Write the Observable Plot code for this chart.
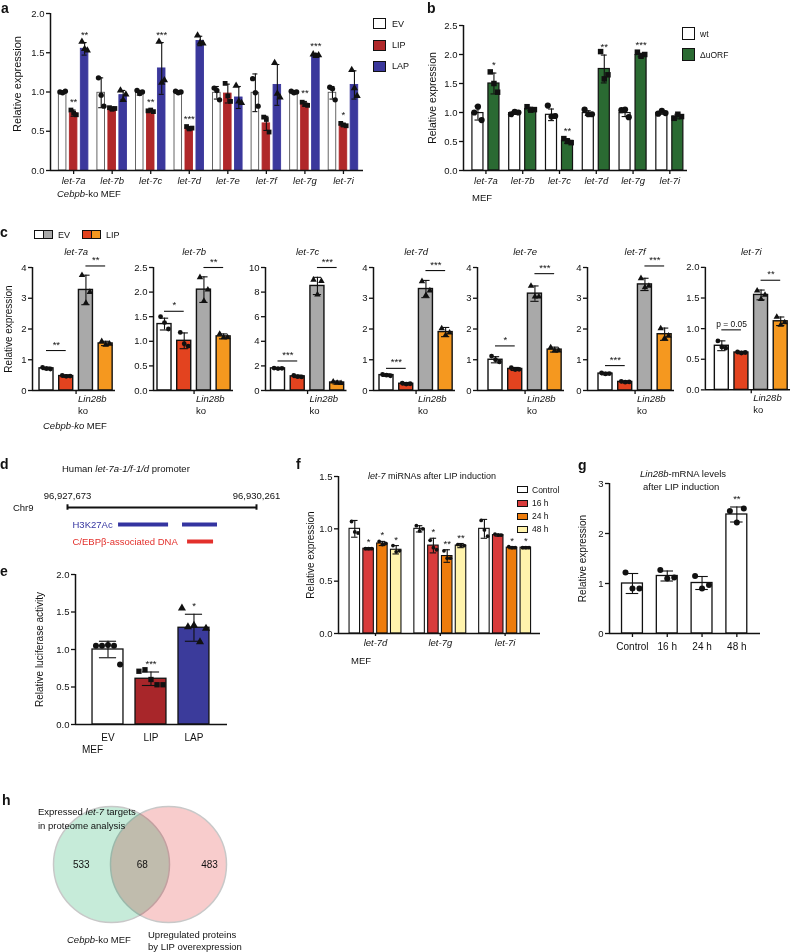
<!DOCTYPE html>
<html><head><meta charset="utf-8">
<script src="https://cdn.jsdelivr.net/npm/d3@7"></script>
<script src="https://cdn.jsdelivr.net/npm/@observablehq/plot@0.6"></script>
<style>
body{margin:0;background:#fff;}
#fig{position:relative;width:794px;height:952px;overflow:hidden;font-family:"Liberation Sans",Arial,Helvetica,sans-serif;color:#111;}
.lbl{position:absolute;white-space:nowrap;line-height:1;}
.panel{position:absolute;}
.sw{position:absolute;box-sizing:border-box;border:1px solid #111;}
.venn circle{mix-blend-mode:multiply;}
</style></head><body><div id="fig"></div>
<script>
// ---------------- DATA ----------------
// Panel a: Cebpb-ko MEF, EV / LIP / LAP
const aCategories = ["let-7a","let-7b","let-7c","let-7d","let-7e","let-7f","let-7g","let-7i"];
const aSeries = ["EV","LIP","LAP"];
const aMeanEV  = [1.00, 0.99, 0.99, 1.00, 0.99, 0.99, 1.00, 0.99];
const aSdEV    = [0.01, 0.19, 0.03, 0.02, 0.08, 0.24, 0.02, 0.08];
const aMeanLIP = [0.73, 0.79, 0.76, 0.54, 0.98, 0.60, 0.85, 0.58];
const aSdLIP   = [0.04, 0.02, 0.01, 0.02, 0.12, 0.09, 0.03, 0.02];
const aMeanLAP = [1.55, 0.96, 1.30, 1.65, 0.93, 1.09, 1.47, 1.09];
const aSdLAP   = [0.08, 0.06, 0.33, 0.06, 0.14, 0.26, 0.02, 0.18];
const aDotsEV  = [[1.00,0.99,1.01],[1.18,0.96,0.82],[1.02,0.98,1.00],[1.01,0.99,1.00],[1.05,1.02,0.90],[1.17,0.99,0.82],[1.01,0.99,1.00],[1.06,1.04,0.90]];
const aDotsLIP = [[0.77,0.73,0.71],[0.80,0.78,0.79],[0.76,0.77,0.75],[0.56,0.53,0.54],[1.11,0.95,0.88],[0.68,0.65,0.49],[0.87,0.84,0.83],[0.60,0.58,0.57]];
const aDotsLAP = [[1.64,1.55,1.53],[1.02,0.90,0.97],[1.64,1.12,1.15],[1.72,1.63,1.62],[1.08,0.88,0.86],[1.37,0.98,0.93],[1.48,1.46,1.47],[1.28,1.05,0.95]];
const aStarsLIP = ["**","","**","***","","","**","*"];
const aStarsLAP = ["**","","***","","","","***",""];
const aYTicks = [0, 0.5, 1.0, 1.5, 2.0];

// Panel b: MEF wt / ΔuORF
const bCategories = ["let-7a","let-7b","let-7c","let-7d","let-7g","let-7i"];
const bSeries = ["wt","ΔuORF"];
const bMeanWT   = [0.99, 0.99, 0.96, 0.99, 0.99, 0.99];
const bSdWT     = [0.12, 0.02, 0.10, 0.04, 0.06, 0.02];
const bMeanUORF = [1.50, 1.06, 0.51, 1.75, 1.99, 0.93];
const bSdUORF   = [0.18, 0.03, 0.04, 0.24, 0.03, 0.04];
const bDotsWT   = [[1.00,1.10,0.87],[0.97,1.01,1.00],[1.12,0.93,0.94],[1.05,0.97,0.97],[1.04,1.05,0.92],[0.98,1.03,0.99]];
const bDotsUORF = [[1.70,1.50,1.35],[1.10,1.04,1.05],[0.55,0.50,0.48],[2.05,1.58,1.65],[2.04,1.97,2.00],[0.90,0.97,0.93]];
const bStarsUORF = ["*","","**","**","***",""];
const bYTicks = [0, 0.5, 1.0, 1.5, 2.0, 2.5];

// Panel c: Cebpb-ko MEF and Lin28b ko, EV / LIP
const cTargets = ["let-7a","let-7b","let-7c","let-7d","let-7e","let-7f","let-7i"];
const cSeries = ["EV","LIP","EV Lin28b ko","LIP Lin28b ko"];
const cMeanEV    = [0.72, 1.35, 1.80, 0.50, 1.00, 0.55, 0.72];
const cSdEV      = [0.04, 0.12, 0.06, 0.04, 0.10, 0.04, 0.08];
const cMeanLIP   = [0.47, 1.01, 1.15, 0.22, 0.70, 0.28, 0.61];
const cSdLIP     = [0.04, 0.16, 0.10, 0.04, 0.05, 0.03, 0.02];
const cMeanEVko  = [3.27, 2.05, 8.50, 3.30, 3.15, 3.45, 1.55];
const cSdEVko    = [0.48, 0.26, 0.70, 0.28, 0.25, 0.20, 0.08];
const cMeanLIPko = [1.53, 1.10, 0.65, 1.90, 1.33, 1.83, 1.12];
const cSdLIPko   = [0.07, 0.05, 0.12, 0.15, 0.08, 0.20, 0.07];
const cDotsEV    = [[0.75,0.71,0.70],[1.50,1.38,1.25],[1.82,1.78,1.80],[0.52,0.50,0.48],[1.12,1.00,0.93],[0.57,0.54,0.55],[0.80,0.70,0.68]];
const cDotsLIP   = [[0.49,0.46,0.47],[1.18,0.95,0.90],[1.22,1.12,1.10],[0.24,0.21,0.22],[0.74,0.68,0.69],[0.30,0.27,0.28],[0.62,0.60,0.61]];
const cDotsEVko  = [[3.75,2.85,3.20],[2.30,1.82,2.05],[9.00,7.80,8.90],[3.55,3.10,3.25],[3.40,3.05,3.05],[3.65,3.35,3.40],[1.62,1.48,1.55]];
const cDotsLIPko = [[1.60,1.48,1.52],[1.15,1.08,1.08],[0.72,0.62,0.60],[2.02,1.80,1.88],[1.40,1.30,1.30],[2.02,1.70,1.78],[1.19,1.06,1.10]];
const cSigLow   = ["**","*","***","***","*","***","p = 0.05"];
const cSigLowY  = [1.30, 1.61, 2.40, 0.72, 1.45, 0.81, 0.98];
const cSigHigh  = ["**","**","***","***","***","***","**"];
const cSigHighY = [4.05, 2.50, 10.0, 3.90, 3.80, 4.05, 1.79];
const cYMax   = [4, 2.5, 10, 4, 4, 4, 2.0];
const cYTicks = [[0,1,2,3,4],[0,0.5,1.0,1.5,2.0,2.5],[0,2,4,6,8,10],[0,1,2,3,4],[0,1,2,3,4],[0,1,2,3,4],[0,0.5,1.0,1.5,2.0]];

// Panel d: promoter region on Chr9
const dChrName = "Chr9";
const dChrStart = 96927673, dChrEnd = 96930261;
const dH3Start = [96928372, 96929248];
const dH3End   = [96929057, 96929727];
const dCebpStart = [96929317];
const dCebpEnd   = [96929673];

// Panel e: luciferase activity
const eGroups = ["EV","LIP","LAP"];
const eMean = [1.00, 0.61, 1.29];
const eSd   = [0.11, 0.09, 0.18];
const eDots = [[1.05,1.05,1.06,1.05,0.80],[0.71,0.73,0.60,0.53,0.53],[1.55,1.30,1.32,1.10,1.28]];
const eStars = ["","***","*"];
const eYTicks = [0, 0.5, 1.0, 1.5, 2.0];

// Panel f: let-7 after LIP induction
const fCategories = ["let-7d","let-7g","let-7i"];
const fSeries = ["Control","16 h","24 h","48 h"];
const fMeanCtrl = [1.00, 1.00, 1.00], fSdCtrl = [0.08, 0.03, 0.09];
const fMean16   = [0.81, 0.84, 0.94], fSd16   = [0.01, 0.07, 0.01];
const fMean24   = [0.86, 0.74, 0.82], fSd24   = [0.02, 0.06, 0.01];
const fMean48   = [0.80, 0.84, 0.82], fSd48   = [0.04, 0.02, 0.01];
const fDotsCtrl = [[1.07,0.97,0.96],[1.03,0.98,1.00],[1.08,0.99,0.93]];
const fDots16   = [[0.81,0.81,0.81],[0.89,0.82,0.80],[0.95,0.94,0.94]];
const fDots24   = [[0.88,0.85,0.86],[0.79,0.72,0.72],[0.83,0.82,0.82]];
const fDots48   = [[0.84,0.78,0.79],[0.85,0.84,0.84],[0.82,0.82,0.82]];
const fStars16 = ["*","*",""], fStars24 = ["*","**","*"], fStars48 = ["*","**","*"];
const fYTicks = [0, 0.5, 1.0, 1.5];

// Panel g: Lin28b mRNA
const gGroups = ["Control","16 h","24 h","48 h"];
const gMean = [1.00, 1.15, 1.01, 2.38];
const gSd   = [0.20, 0.10, 0.13, 0.15];
const gDots = [[1.22,0.90,0.90],[1.27,1.10,1.12],[1.15,0.90,0.97],[2.45,2.22,2.50]];
const gStars = ["","","","**"];
const gYTicks = [0, 1, 2, 3];

// Panel h: Venn
const hSets = ["Expressed let-7 targets in proteome analysis (Cebpb-ko MEF)", "Upregulated proteins by LIP overexpression"];
const hSetPos = [0, 1];
const hCounts = [533, 68, 483];
const hCountPos = [-0.53, 0.54, 1.72];

// ---------------- HELPERS ----------------
const FONT = '"Liberation Sans", Arial, Helvetica, sans-serif';
const INK = "#111";
const fig = document.getElementById("fig");
function place(node, left, top, cls) {
  const d = document.createElement("div");
  d.className = "panel" + (cls ? " " + cls : "");
  d.style.left = left + "px"; d.style.top = top + "px";
  d.appendChild(node); fig.appendChild(d);
}
function label(x, y, html, opt = {}) {
  const d = document.createElement("div");
  d.className = "lbl";
  const size = opt.size || 9.5;
  d.style.fontSize = size + "px";
  d.style.left = x + "px"; d.style.top = (y - size / 2) + "px";
  if (opt.bold) d.style.fontWeight = "bold";
  if (opt.color) d.style.color = opt.color;
  d.innerHTML = html; fig.appendChild(d);
}
function swatch(x, y, w, h, fill) {
  const d = document.createElement("div");
  d.className = "sw";
  Object.assign(d.style, {left: x + "px", top: y + "px", width: w + "px", height: h + "px", background: fill});
  fig.appendChild(d);
}
const style = {fontFamily: FONT, fontSize: "9.5px", color: INK, background: "transparent", overflow: "visible"};

function barChart(cfg) {
  const n = cfg.series.length;
  const fs = cfg.fontSize ?? 9.5;
  const marks = [];
  cfg.series.forEach((s, j) => {
    const rows = cfg.cats.map((c, i) => ({
      x: i + (j - (n - 1) / 2) * cfg.step,
      mean: s.mean[i], sd: s.sd[i],
      star: s.stars ? s.stars[i] : "",
      reps: s.dots[i]
    }));
    marks.push(Plot.rect(rows, {x1: d => d.x - cfg.barW / 2, x2: d => d.x + cfg.barW / 2, y1: () => 0, y2: "mean",
      fill: s.fill, stroke: s.stroke ?? INK, strokeWidth: cfg.barStroke ?? 1.2}));
    marks.push(Plot.ruleX(rows, {x: "x", y1: d => d.mean - d.sd, y2: d => d.mean + d.sd, stroke: INK, strokeWidth: 1.1}));
    for (const sign of [1, -1]) {
      marks.push(Plot.ruleY(rows, {y: d => d.mean + sign * d.sd, x1: d => d.x - cfg.capW / 2, x2: d => d.x + cfg.capW / 2, stroke: INK, strokeWidth: 1.1}));
    }
    const dotRows = rows.flatMap(d => d.reps.map((v, k) => ({x: d.x + (k - (d.reps.length - 1) / 2) * cfg.spread, y: v})));
    marks.push(Plot.dot(dotRows, {x: "x", y: "y", symbol: s.symbol ?? "circle", r: cfg.dotR ?? 2.6, fill: INK, stroke: "none"}));
    marks.push(Plot.text(rows.filter(d => d.star), {x: "x", y: d => d.mean + d.sd, text: "star", dy: cfg.starDy ?? -8, fontSize: fs}));
  });
  marks.push(Plot.ruleY([0], {stroke: INK, strokeWidth: 1.5}));
  marks.push(Plot.ruleX([cfg.xDomain[0]], {stroke: INK, strokeWidth: 1.5}));
  marks.push(Plot.axisY({ticks: cfg.yTicks, tickFormat: d3.format(cfg.yFmt), tickSize: 4, tickPadding: 2, fontSize: fs, label: null, strokeWidth: 1.3}));
  if (cfg.yLabel) marks.push(Plot.text([cfg.yLabel], {frameAnchor: "left", textAnchor: "middle", lineAnchor: "middle", rotate: -90,
    dx: -cfg.yLabelOffset, dy: cfg.yLabelDy ?? 0, fontSize: cfg.yLabelSize ?? 10}));
  marks.push(Plot.axisX({ticks: cfg.xTicks ?? cfg.cats.map((c, i) => i), tickFormat: cfg.xTickFormat ?? (i => cfg.cats[i]),
    tickSize: cfg.xTickSize ?? 4, tickPadding: cfg.xTickPadding ?? 3, fontSize: cfg.xFontSize ?? fs,
    fontStyle: cfg.xItalic ? "italic" : "normal", label: null, strokeWidth: 1.3}));
  if (cfg.extra) marks.push(...cfg.extra);
  const [mt, mr, mb, ml] = cfg.margin;
  const svg = Plot.plot({
    width: cfg.width, height: cfg.height, marginTop: mt, marginRight: mr, marginBottom: mb, marginLeft: ml,
    x: {domain: cfg.xDomain, axis: null}, y: {domain: [0, cfg.yMax], axis: null},
    style, marks
  });
  place(svg, cfg.left, cfg.top);
}

// ---------------- PANEL a ----------------
barChart({
  left: 0, top: 0, width: 372, height: 200, margin: [13, 9, 30, 50],
  xDomain: [-0.6, 7.52], yMax: 2.0, yTicks: aYTicks, yFmt: ".1f",
  yLabel: "Relative expression", yLabelOffset: 33, yLabelSize: 11, yLabelDy: -8,
  cats: aCategories, step: 0.285, barW: 0.196, capW: 0.13, spread: 0.07, dotR: 2.7,
  xItalic: true, xFontSize: 9.5, fontSize: 9.5, barStroke: 0.9,
  series: [
    {mean: aMeanEV, sd: aSdEV, dots: aDotsEV, fill: "#ffffff", stroke: "#555", symbol: "circle"},
    {mean: aMeanLIP, sd: aSdLIP, dots: aDotsLIP, stars: aStarsLIP, fill: "#b0282a", stroke: "#b0282a", symbol: "square"},
    {mean: aMeanLAP, sd: aSdLAP, dots: aDotsLAP, stars: aStarsLAP, fill: "#3b389c", stroke: "#3b389c", symbol: "triangle"}
  ]
});
label(57, 194, "<i>Cebpb</i>-ko MEF", {size: 9.5});
aSeries.forEach((s, k) => {
  swatch(373, [18, 40, 61][k], 13, 11, ["#ffffff", "#b0282a", "#3b389c"][k]);
  label(392, [24, 45, 66][k], s, {size: 9});
});

// ---------------- PANEL b ----------------
barChart({
  left: 410, top: 0, width: 282, height: 200, margin: [25, 5, 30, 53],
  xDomain: [-0.61, 5.48], yMax: 2.5, yTicks: bYTicks, yFmt: ".1f",
  yLabel: "Relative expression", yLabelOffset: 31, yLabelSize: 10.5,
  cats: bCategories, step: 0.435, barW: 0.3, capW: 0.16, spread: 0.1, dotR: 3.1,
  xItalic: true, fontSize: 9.5,
  series: [
    {mean: bMeanWT, sd: bSdWT, dots: bDotsWT, fill: "#ffffff", symbol: "circle"},
    {mean: bMeanUORF, sd: bSdUORF, dots: bDotsUORF, stars: bStarsUORF, fill: "#2a6a32", symbol: "square"}
  ]
});
label(472, 198, "MEF", {size: 9.5});
bSeries.forEach((s, k) => {
  swatch(682, [27, 48][k], 13, 13, ["#ffffff", "#2a6a32"][k]);
  label(700, [34, 55][k], s, {size: 8.5});
});

// ---------------- PANEL c ----------------
const cLayout = [[32, 46], [153, 164], [265, 277.5], [373, 386], [477, 495], [587, 605], [705, 721.5]];
const cColors = ["#ffffff", "#e3431f", "#a9a9a9", "#f5981f"];
const cSym = ["circle", "circle", "triangle", "triangle"];
const cPx = 19.7;
cTargets.forEach((t, k) => {
  const [ax, c0] = cLayout[k];
  const ml = k === 0 ? 32 : 30;
  const left = ax - ml;
  const right = c0 + 69;
  const pos = j => (j - 1.5);
  const fmt = (cYMax[k] === 2.5 || cYMax[k] === 2.0) ? ".1f" : "d";
  const extra = [
    Plot.text([t], {x: () => 0, frameAnchor: "top", dy: -19, fontStyle: "italic", fontSize: 9.5}),
    Plot.ruleY([cSigLowY[k]], {y: d => d, x1: () => pos(0), x2: () => pos(1), stroke: INK, strokeWidth: 1.1}),
    Plot.text([cSigLow[k]], {x: () => (pos(0) + pos(1)) / 2, y: () => cSigLowY[k], dy: -6, fontSize: cSigLow[k].length > 3 ? 8.5 : 9.5}),
    Plot.ruleY([cSigHighY[k]], {y: d => d, x1: () => pos(2), x2: () => pos(3), stroke: INK, strokeWidth: 1.1}),
    Plot.text([cSigHigh[k]], {x: () => (pos(2) + pos(3)) / 2, y: () => cSigHighY[k], dy: -6, fontSize: 9.5}),
    Plot.text(["Lin28b"], {x: () => 0, frameAnchor: "bottom", dy: 11, dx: 2, textAnchor: "start", fontStyle: "italic", fontSize: 9.5}),
    Plot.text(["ko"], {x: () => 0, frameAnchor: "bottom", dy: 23, dx: 2, textAnchor: "start", fontSize: 9.5})
  ];
  barChart({
    left, top: 240, width: right - left + 4, height: 190, margin: [27, 4, 40, ml],
    xDomain: [(ax - c0) / cPx - 1.5, 2.0], yMax: cYMax[k], yTicks: cYTicks[k], yFmt: fmt,
    yLabel: k === 0 ? "Relative expression" : null, yLabelOffset: 24, yLabelSize: 10,
    cats: [t], step: 1, barW: 14 / cPx, capW: 0.42, spread: 0.2, dotR: 2.4, barStroke: 1.4,
    xTicks: [0], xTickFormat: () => "", fontSize: 9.5,
    series: [
      {mean: [cMeanEV[k]], sd: [cSdEV[k]], dots: [cDotsEV[k]], fill: cColors[0], symbol: cSym[0]},
      {mean: [cMeanLIP[k]], sd: [cSdLIP[k]], dots: [cDotsLIP[k]], fill: cColors[1], symbol: cSym[1]},
      {mean: [cMeanEVko[k]], sd: [cSdEVko[k]], dots: [cDotsEVko[k]], fill: cColors[2], symbol: cSym[2]},
      {mean: [cMeanLIPko[k]], sd: [cSdLIPko[k]], dots: [cDotsLIPko[k]], fill: cColors[3], symbol: cSym[3]}
    ],
    extra
  });
});
label(43, 426, "<i>Cebpb-ko</i> MEF", {size: 9.5});
swatch(34, 230, 10, 9, cColors[0]); swatch(43, 230, 10, 9, cColors[2]);
label(58, 235, "EV", {size: 9});
swatch(82, 230, 10, 9, cColors[1]); swatch(91, 230, 10, 9, cColors[3]);
label(106, 235, "LIP", {size: 9});

// ---------------- PANEL d ----------------
{
  const blue = "#3434a0", red = "#e3302c";
  const fmt = d3.format(",");
  const svg = Plot.plot({
    width: 280, height: 75,
    x: {domain: [dChrStart, dChrEnd], range: [67, 256], axis: null},
    y: {domain: [0, 2], range: [27, 61], axis: null},
    style,
    marks: [
      Plot.ruleY([0], {y: d => d, x1: () => dChrStart, x2: () => dChrEnd, stroke: INK, strokeWidth: 2.2}),
      Plot.ruleX([dChrStart, dChrEnd], {x: d => d, y1: () => -0.16, y2: () => 0.16, stroke: INK, strokeWidth: 2}),
      Plot.text([dChrStart, dChrEnd], {x: d => d, y: () => 0, text: d => fmt(d), dy: -12, fontSize: 9.5}),
      Plot.text([dChrName], {x: () => dChrStart, y: () => 0, dx: -34, textAnchor: "end", fontSize: 9.5}),
      Plot.ruleY(dH3Start.map((s, i) => ({s, e: dH3End[i]})), {y: () => 1, x1: "s", x2: "e", stroke: blue, strokeWidth: 4}),
      Plot.text(["H3K27Ac"], {x: () => dChrStart, y: () => 1, dx: 5, textAnchor: "start", fill: blue, fontSize: 9.5}),
      Plot.ruleY(dCebpStart.map((s, i) => ({s, e: dCebpEnd[i]})), {y: () => 2, x1: "s", x2: "e", stroke: red, strokeWidth: 4}),
      Plot.text(["C/EBPβ-associated DNA"], {x: () => dChrStart, y: () => 2, dx: 5, textAnchor: "start", fill: red, fontSize: 9.5})
    ]
  });
  place(svg, 0, 480);
}
label(62, 469, "Human <i>let-7a-1/f-1/d</i> promoter", {size: 9.5});

// ---------------- PANEL e ----------------
barChart({
  left: 0, top: 560, width: 232, height: 190, margin: [14, 5, 26, 75],
  xDomain: [-1.756, 1.78], yMax: 2.0, yTicks: eYTicks, yFmt: ".1f",
  yLabel: "Relative luciferase activity", yLabelOffset: 36, yLabelSize: 10,
  cats: ["EV-LIP-LAP"], step: 1, barW: 0.72, capW: 0.4, spread: 0.14, dotR: 3, barStroke: 1.3,
  xTicks: [-1, 0, 1], xTickFormat: v => eGroups[v + 1], xTickSize: 0, xTickPadding: 9, fontSize: 9.5, xFontSize: 10,
  series: [
    {mean: [eMean[0]], sd: [eSd[0]], dots: [eDots[0]], fill: "#ffffff", symbol: "circle"},
    {mean: [eMean[1]], sd: [eSd[1]], dots: [eDots[1]], stars: [eStars[1]], fill: "#a8262a", symbol: "square"},
    {mean: [eMean[2]], sd: [eSd[2]], dots: [eDots[2]], stars: [eStars[2]], fill: "#3b3b9b", symbol: "triangle"}
  ]
});
label(82, 750, "MEF", {size: 10});

// ---------------- PANEL f ----------------
barChart({
  left: 270, top: 460, width: 275, height: 200, margin: [16, 5, 27, 68],
  xDomain: [-0.571, 2.546], yMax: 1.5, yTicks: fYTicks, yFmt: ".1f",
  yLabel: "Relative expression", yLabelOffset: 28, yLabelSize: 10,
  cats: fCategories, step: 0.213, barW: 0.162, capW: 0.1, spread: 0.05, dotR: 1.9, barStroke: 1.1,
  xItalic: true, xTickSize: 3, fontSize: 9.5, starDy: -6,
  series: [
    {mean: fMeanCtrl, sd: fSdCtrl, dots: fDotsCtrl, fill: "#ffffff"},
    {mean: fMean16, sd: fSd16, dots: fDots16, stars: fStars16, fill: "#d93b3b"},
    {mean: fMean24, sd: fSd24, dots: fDots24, stars: fStars24, fill: "#ee7c0c"},
    {mean: fMean48, sd: fSd48, dots: fDots48, stars: fStars48, fill: "#fff3ac"}
  ]
});
label(368, 476, "<i>let-7</i> miRNAs after LIP induction", {size: 9});
label(351, 661, "MEF", {size: 9.5});
fSeries.forEach((s, k) => {
  swatch(517, [486, 500, 513, 526][k], 11, 7, ["#ffffff", "#d93b3b", "#ee7c0c", "#fff3ac"][k]);
  label(532, [490, 503, 516, 529][k], s, {size: 8.5});
});

// ---------------- PANEL g ----------------
barChart({
  left: 560, top: 460, width: 205, height: 200, margin: [23, 5, 27, 49],
  xDomain: [-0.66, 3.68], yMax: 3, yTicks: gYTicks, yFmt: "d",
  yLabel: "Relative expression", yLabelOffset: 27, yLabelSize: 10,
  cats: gGroups, step: 0, barW: 0.6, capW: 0.36, spread: 0.2, dotR: 3, barStroke: 1.3,
  xTickSize: 4, xTickPadding: 5, fontSize: 9.5, xFontSize: 10,
  series: [
    {mean: gMean, sd: gSd, dots: gDots, stars: gStars, fill: "#ffffff"}
  ]
});
label(640, 474, "<i>Lin28b</i>-mRNA levels", {size: 9.5});
label(643, 487, "after LIP induction", {size: 9.5});

// ---------------- PANEL h ----------------
{
  const svg = Plot.plot({
    width: 240, height: 128, margin: 0,
    x: {domain: [0, 1], range: [111, 168], axis: null},
    style,
    marks: [
      Plot.dot([hSetPos[0]], {x: d => d, r: 58, fill: "#c6ebd9", stroke: "#c8c8c8", strokeWidth: 1.5}),
      Plot.dot([hSetPos[1]], {x: d => d, r: 58, fill: "#f8cccc", stroke: "#c8c8c8", strokeWidth: 1.5, mixBlendMode: "multiply"}),
      Plot.text(hCounts, {x: (d, i) => hCountPos[i], text: d => String(d), fontSize: 10})
    ]
  });
  place(svg, 0, 800, "venn");
}
label(38, 812, "Expressed <i>let-7</i> targets", {size: 9.5});
label(38, 826, "in proteome analysis", {size: 9.5});
label(67, 940, "<i>Cebpb</i>-ko MEF", {size: 9.5});
label(148, 935, "Upregulated proteins", {size: 9.5});
label(148, 947, "by LIP overexpression", {size: 9.5});

// ---------------- PANEL LETTERS ----------------
[["a", 1, 8], ["b", 427, 8], ["c", 0, 232], ["d", 0, 464], ["e", 0, 571], ["f", 296, 464], ["g", 578, 465], ["h", 2, 800]]
  .forEach(([t, x, y]) => label(x, y, t, {size: 14, bold: true}));
</script></body></html>
